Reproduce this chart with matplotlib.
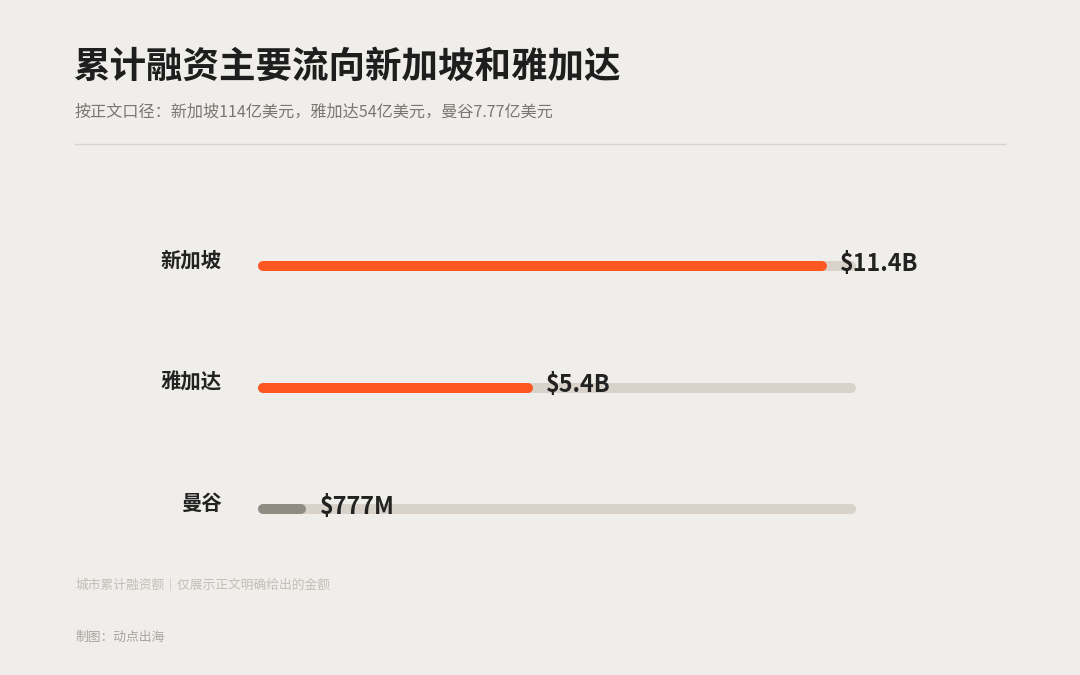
import matplotlib.pyplot as plt
from matplotlib.lines import Line2D

plt.rcParams['font.family'] = ['Noto Sans CJK SC', 'DejaVu Sans']

# data (billions USD)
cities = ['新加坡', '雅加达', '曼谷']
amounts = [11.4, 5.4, 0.777]
value_labels = ['$11.4B', '$5.4B', '$777M']
scale_max = 12.0

bg = '#F0EEEA'
track_col = '#D9D2CA'
bar_cols = ['#FF5722', '#FF5722', '#8E8D84']

fig = plt.figure(figsize=(10.8, 6.75), dpi=100, facecolor=bg)

# axes laid out in pixels (263..851 for 0..12, rows at y=266/387/509)
ax = fig.add_axes([263 / 1080, 1 - 570 / 675, 588 / 1080, 365 / 675])
ax.set_facecolor(bg)
ax.set_xlim(0, scale_max)
ax.set_ylim(2.5, -0.5)
ax.axis('off')

lw = 10 * 72 / 100  # 10 px thick bars
for i, (name, val, lab) in enumerate(zip(cities, amounts, value_labels)):
    ax.plot([0, scale_max], [i, i], color=track_col, lw=lw,
            solid_capstyle='round', zorder=1, clip_on=False)
    ax.plot([0, val], [i, i], color=bar_cols[i], lw=lw,
            solid_capstyle='round', zorder=2, clip_on=False)
    ax.annotate(name, xy=(-41 / 588, i), xycoords=('axes fraction', 'data'),
                xytext=(0, 4), textcoords='offset points',
                ha='right', va='center', fontsize=14.7, fontweight='bold',
                color='#222222')
    ax.annotate(lab, xy=(val, i), xytext=(13.5, 1.5), textcoords='offset points',
                ha='left', va='center', fontsize=16.8, fontweight='bold',
                color='#222222', zorder=3)

# header
fig.text(74 / 1080, 1 - 67 / 675, '累计融资主要流向新加坡和雅加达',
         fontsize=26.3, fontweight='bold', color='#1E1E1E',
         ha='left', va='center')
fig.text(75 / 1080, 1 - 112 / 675,
         '按正文口径：新加坡114亿美元，雅加达54亿美元，曼谷7.77亿美元',
         fontsize=11.6, color='#7A7773', ha='left', va='center')
fig.add_artist(Line2D([75 / 1080, 1005 / 1080], [1 - 144 / 675, 1 - 144 / 675],
                      color='#D8D3CD', lw=1, transform=fig.transFigure))

# footer
fig.text(75 / 1080, 1 - 586 / 675, '城市累计融资额｜仅展示正文明确给出的金额',
         fontsize=9.2, color='#C2BEB8', ha='left', va='center')
fig.text(75 / 1080, 1 - 637 / 675, '制图：动点出海',
         fontsize=9.2, color='#A8A5A0', ha='left', va='center')

fig.savefig('out.png', dpi=100, facecolor=bg)
